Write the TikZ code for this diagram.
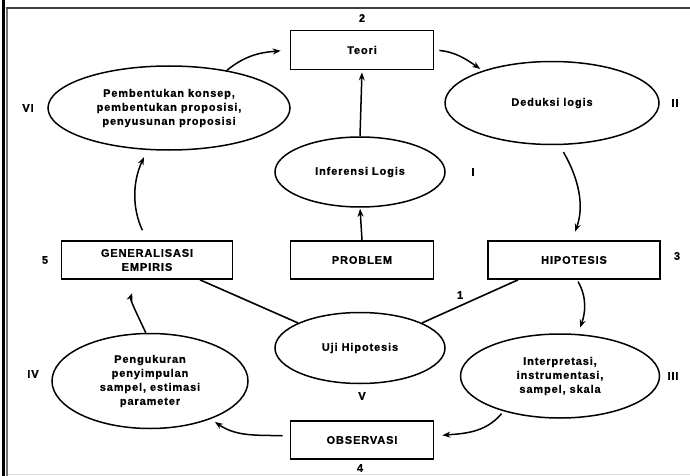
\documentclass[tikz,border=0pt]{standalone}
\usepackage{fontspec}
\setmainfont{Liberation Sans}[LetterSpace=8,BoldFeatures={FakeBold=0.8}]
\usetikzlibrary{shapes.geometric,arrows.meta}
\begin{document}
\begin{tikzpicture}[x=1pt,y=1pt,
  every node/.style={font=\fontsize{11}{14}\selectfont\bfseries},
  rbox/.style={draw,line width=1.7pt,rectangle,inner sep=0pt,align=center},
  ell/.style={draw,line width=1.5pt,ellipse,inner sep=0pt,align=center},
  arr/.style={line width=1.5pt,-{Stealth[length=8pt,width=6pt]}},
  conn/.style={line width=1.6pt},
  lbl/.style={inner sep=0pt}]
\useasboundingbox (0,0) rectangle (690,-476);
% frame
\draw[line width=2.5pt] (3.5,0) -- (3.5,-476);
\draw[black!55,line width=2pt] (7,-8) -- (7,-476);
\draw[black!75,line width=2pt] (6,-8) -- (690,-8);
\draw[black!12,line width=1pt] (8,-474) -- (690,-474);
% boxes
\node[rbox,minimum width=143pt,minimum height=39pt] (teori) at (362,-50) {Teori};
\node[rbox,minimum width=143pt,minimum height=38pt] (problem) at (362,-260) {PROBLEM};
\node[rbox,minimum width=171pt,minimum height=38pt] (gen) at (147,-260) {GENERALISASI\\EMPIRIS};
\node[rbox,minimum width=172pt,minimum height=38pt] (hip) at (574,-260) {HIPOTESIS};
\node[rbox,minimum width=143pt,minimum height=38pt] (obs) at (362,-440) {OBSERVASI};
% ellipses
\node[ell,minimum width=214pt,minimum height=83pt] (deduk) at (552,-103) {Deduksi logis};
\node[ell,minimum width=170pt,minimum height=70pt] (infer) at (360,-172) {Inferensi Logis};
\node[ell,minimum width=242pt,minimum height=84pt] (pemb) at (169,-108) {Pembentukan konsep,\\pembentukan proposisi,\\penyusunan proposisi};
\node[ell,minimum width=170pt,minimum height=71pt] (uji) at (360,-348) {Uji Hipotesis};
\node[ell,minimum width=196pt,minimum height=95pt] (peng) at (150,-381) {Pengukuran\\penyimpulan\\sampel, estimasi\\parameter};
\node[ell,minimum width=199pt,minimum height=84pt] (interp) at (560,-376) {Interpretasi,\\instrumentasi,\\sampel, skala};
% labels
\node[lbl] (n1) at (460,-295) {1};
\node[lbl] (n2) at (362,-18) {2};
\node[lbl] (n3) at (677,-256) {3};
\node[lbl] (n4) at (360,-468) {4};
\node[lbl] (n5) at (45,-260) {5};
\node[lbl] (r1) at (473,-172) {I};
\node[lbl] (r2) at (675,-103) {II};
\node[lbl] (r3) at (673,-376) {III};
\node[lbl] (r4) at (33,-374) {IV};
\node[lbl] (r5) at (362,-396) {V};
\node[lbl] (r6) at (28,-108) {VI};
% straight arrows
\draw[arr,shorten >=1pt] (problem.north) -- (infer.south);
\draw[arr,shorten >=2pt] (infer.north) -- (teori.south);
% curved arrows
\draw[arr,shorten >=9pt] (pemb.33) to[out=40,in=185] (teori.west);
\draw[arr,shorten <=5pt,shorten >=3pt] (teori.east) to[out=-5,in=145] (deduk.155);
\draw[arr,shorten <=8pt,shorten >=9pt] (deduk.-80) to[out=-60,in=70] ([xshift=-2pt]hip.north);
\draw[arr,shorten <=2pt,shorten >=6pt] ([xshift=3pt]hip.south) to[out=-60,in=70] ([xshift=18pt]interp.north);
\draw[arr,shorten <=3pt,shorten >=8pt] (interp.-148) to[out=-130,in=5] ([yshift=4pt]obs.east);
\draw[arr,shorten <=7pt,shorten >=5pt] ([yshift=4pt]obs.west) to[out=178,in=-35] (peng.-32);
\draw[arr,shorten >=14pt] (peng.95) to[out=115,in=-110] ([xshift=-10pt]gen.south);
\draw[arr,shorten <=11pt,shorten >=7pt] (gen.north) to[out=115,in=-115] ([xshift=-22pt]pemb.south);
% plain connectors
\draw[conn] ([xshift=53pt]gen.south) -- (uji.158);
\draw[conn] ([xshift=-56pt]hip.south) -- (uji.22);
\end{tikzpicture}
\end{document}
